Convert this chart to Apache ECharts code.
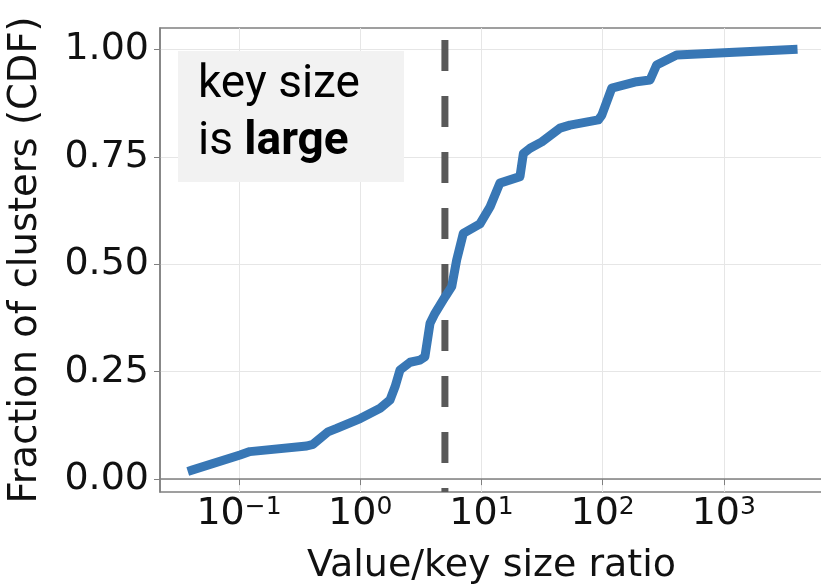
<!DOCTYPE html>
<html>
<head>
<meta charset="utf-8">
<script src="https://cdn.jsdelivr.net/npm/echarts@6/dist/echarts.min.js"></script>
<style>
  html, body { margin: 0; padding: 0; background: #ffffff; }
  #chart { width: 821px; height: 586px; }
</style>
</head>
<body>
<div id="chart"></div>
<script>
// Cumulative distribution of the value/key size ratio across clusters
const ratio = [0.041, 0.102, 0.123, 0.362, 0.408, 0.542, 0.640, 1.0, 1.46, 1.76,
               1.94, 2.13, 2.58, 3.11, 3.42, 3.77, 4.14, 5.01, 5.69, 6.25,
               7.09, 9.73, 11.8, 14.2, 20.8, 22.2, 25.2, 31.5, 44.5, 53.8,
               92.0, 98.4, 119, 191, 246, 279, 408, 3724];
const cdf = [0.021, 0.056, 0.064, 0.077, 0.081, 0.110, 0.118, 0.141, 0.165, 0.184,
             0.215, 0.254, 0.272, 0.277, 0.285, 0.363, 0.386, 0.424, 0.448, 0.510,
             0.572, 0.594, 0.634, 0.689, 0.704, 0.758, 0.770, 0.785, 0.817, 0.824,
             0.836, 0.847, 0.910, 0.925, 0.929, 0.964, 0.987, 1.000];

// Tick positions
const xTicks = [0.1, 1, 10, 100, 1000];
const yTicks = [0, 0.25, 0.5, 0.75, 1.0];

// Threshold ratio marked with the dashed vertical line
const threshold = 5;
const thresholdSpan = [1.022, -0.03];

// Axis extents
const xRange = [0.0223, 6580];
const yRange = [-0.03, 1.05];

const FONT = 'DejaVu Sans';
const frameColor = '#808080';
const gridColor = '#e6e6e6';

const chart = echarts.init(document.getElementById('chart'), null, { renderer: 'canvas' });

// Power-of-ten tick label with a raised exponent
const supText = function (v) {
  const e = Math.round(Math.log10(v));
  const s = e < 0 ? '\u2212' + (-e) : String(e);
  return '{b|10}{s|' + s + '}';
};

chart.setOption({
  animation: false,
  backgroundColor: '#ffffff',
  grid: {
    left: 160, top: 28, width: 663, height: 464,
    outerBoundsMode: 'none',
    containLabel: false,
    show: true, borderColor: frameColor, borderWidth: 1.5, backgroundColor: '#ffffff'
  },
  xAxis: {
    type: 'log',
    logBase: 10,
    min: xRange[0],
    max: xRange[1],
    name: 'Value/key size ratio',
    nameLocation: 'middle',
    nameGap: 55,
    nameTextStyle: { fontFamily: FONT, fontSize: 38, color: '#111111' },
    axisLine: { show: true, lineStyle: { color: frameColor, width: 1.5 } },
    axisTick: { show: true, length: 6, lineStyle: { color: frameColor, width: 1 }, customValues: xTicks },
    minorTick: { show: false },
    splitLine: { show: true, lineStyle: { color: gridColor, width: 1 } },
    axisLabel: {
      customValues: xTicks,
      margin: 3,
      formatter: supText,
      rich: {
        b: { fontFamily: FONT, fontSize: 38, lineHeight: 38, color: '#111111', padding: [12, 0, 0, 0], verticalAlign: 'bottom' },
        s: { fontFamily: FONT, fontSize: 25, lineHeight: 25, color: '#111111', verticalAlign: 'top' }
      }
    }
  },
  yAxis: {
    type: 'value',
    min: yRange[0],
    max: yRange[1],
    name: 'Fraction of clusters (CDF)',
    nameLocation: 'middle',
    nameGap: 115,
    nameTextStyle: { fontFamily: FONT, fontSize: 38.5, color: '#111111' },
    axisLine: { show: true, lineStyle: { color: frameColor, width: 1.5 } },
    axisTick: { show: true, length: 6, lineStyle: { color: frameColor, width: 1 }, customValues: yTicks },
    splitLine: { show: true, lineStyle: { color: gridColor, width: 1 } },
    axisLabel: {
      customValues: yTicks,
      margin: 11,
      fontFamily: FONT,
      fontSize: 38,
      color: '#111111',
      formatter: function (v) { return v.toFixed(2); }
    }
  },
  series: [
    {
      type: 'line',
      data: thresholdSpan.map(function (f) { return [threshold, f]; }),
      symbol: 'none',
      clip: true,
      silent: true,
      lineStyle: { color: '#595959', width: 7, type: [31, 25] },
      z: 2
    },
    {
      type: 'line',
      data: ratio.map(function (r, i) { return [r, cdf[i]]; }),
      symbol: 'none',
      clip: true,
      silent: true,
      lineStyle: { color: '#3877b5', width: 9, join: 'round', cap: 'square' },
      z: 3
    }
  ],
  graphic: [
    {
      type: 'rect',
      z: 10,
      shape: { x: 178, y: 51, width: 226, height: 131 },
      style: { fill: '#f2f2f2' }
    },
    {
      type: 'text',
      z: 11,
      x: 198,
      y: 57,
      style: {
        text: '{n|key size}\n{n|is }{bold|large}',
        rich: {
          n: { fontFamily: 'Roboto', fontSize: 46, lineHeight: 57, fill: '#000000' },
          bold: { fontFamily: 'Roboto', fontSize: 46, lineHeight: 57, fontWeight: 'bold', fill: '#000000' }
        }
      }
    }
  ]
});
</script>
</body>
</html>
